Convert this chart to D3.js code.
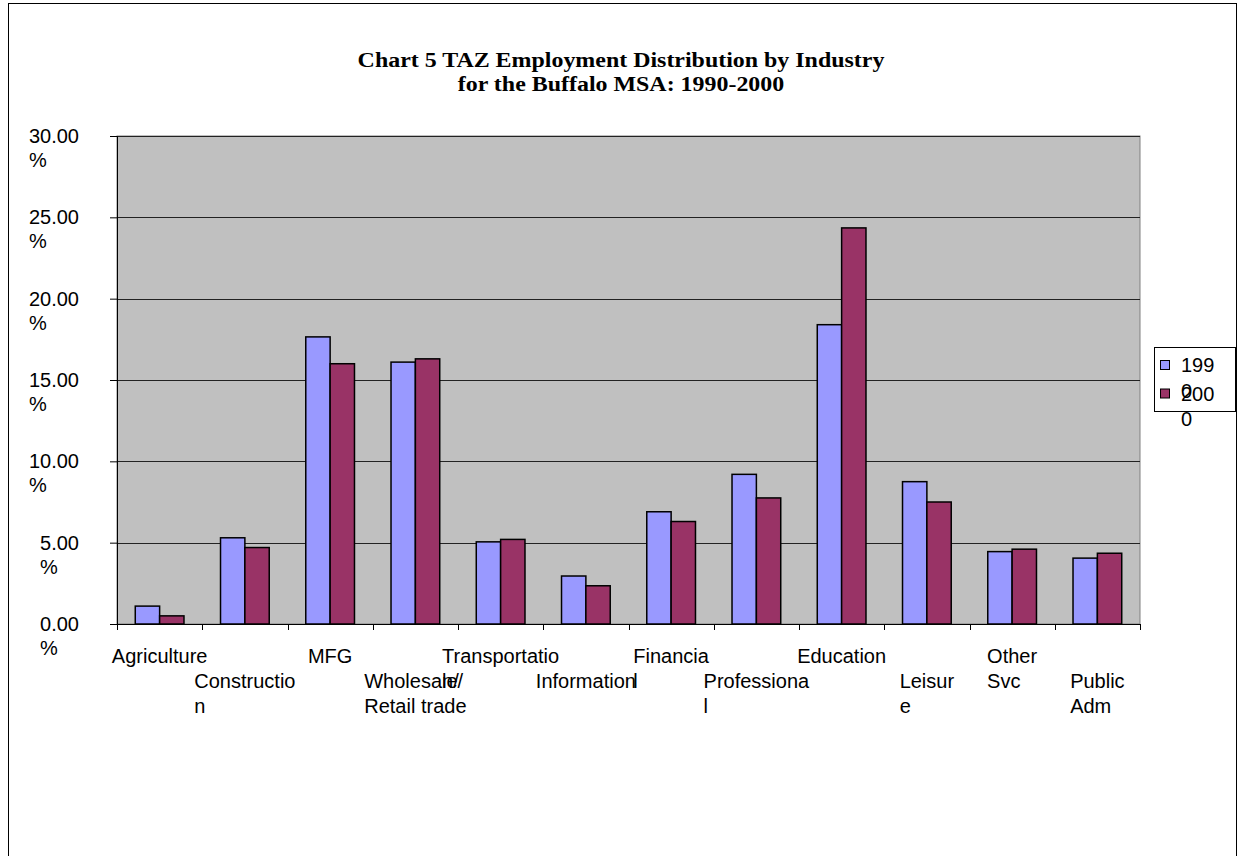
<!DOCTYPE html>
<html>
<head>
<meta charset="utf-8">
<script src="https://cdn.jsdelivr.net/npm/d3@7"></script>
<style>
  body { margin: 0; background: #fff; }
  text { font-family: Arial, "Liberation Sans", sans-serif; fill: #000; }
  .title { font-family: "Times New Roman", "Liberation Serif", serif; font-weight: bold; }
</style>
</head>
<body>
<div id="chart"></div>
<script>
// data
var categories = ["Agriculture", "Construction", "MFG", "Wholesale/Retail trade", "Transportation/",
	"Information", "Financial", "Professional", "Education", "Leisure", "Other Svc", "Public Adm"];
// labels as they wrap in the original
var labelLines = [["Agriculture"], ["Constructio", "n"], ["MFG"], ["Wholesale/", "Retail trade"],
	["Transportatio", "n/"], ["Information"], ["Financia", "l"], ["Professiona", "l"], ["Education"],
	["Leisur", "e"], ["Other", "Svc"], ["Public", "Adm"]];
var series = ["1990", "2000"];
var legendLines = [["199", "0"], ["200", "0"]];
var titleLines = ["Chart 5 TAZ Employment Distribution by Industry", "for the Buffalo MSA: 1990-2000"];
var values1990 = [1.1, 5.3, 17.65, 16.1, 5.05, 2.95, 6.9, 9.2, 18.4, 8.75, 4.45, 4.05];
var values2000 = [0.5, 4.7, 16.0, 16.3, 5.2, 2.35, 6.3, 7.75, 24.35, 7.5, 4.6, 4.35];
var yTicks = [0, 5, 10, 15, 20, 25, 30];
var colors = ["#9999FF", "#993366"];

var W = 1238, H = 856;
var margin = {top: 136, left: 117, right: 98, bottom: 232};
var width = W - margin.left - margin.right;
var height = H - margin.top - margin.bottom;

var svg = d3.select("#chart")
	.append("svg")
	.attr("width", W)
	.attr("height", H);

// outer chart border
svg.append("rect")
	.attr("x", 8.5).attr("y", 3.5)
	.attr("width", 1228).attr("height", 900)
	.attr("fill", "none")
	.attr("stroke", "#000");

// title (the original face is drawn a little wider than ours)
var title = svg.append("text")
	.attr("class", "title")
	.attr("text-anchor", "middle")
	.attr("transform", "translate(621,0) scale(1.14,1)")
	.style("font-size", "21px");
titleLines.forEach(function (ln, k) {
	title.append("tspan").attr("x", 0).attr("y", 67 + k * 24).text(ln);
});

var g = svg.append("g")
	.attr("transform", "translate(" + margin.left + "," + margin.top + ")");

var x0 = d3.scaleBand()
	.domain(categories)
	.range([0, width])
	.padding(0);

var x1 = d3.scaleBand()
	.domain(series)
	.range([0, x0.bandwidth()])
	.paddingInner(0)
	.paddingOuter(0.75);

var y = d3.scaleLinear()
	.domain([0, 30])
	.range([height, 0]);

// plot area
g.append("rect")
	.attr("width", width)
	.attr("height", height)
	.attr("fill", "#C0C0C0")
	.attr("stroke", "#808080");

// gridlines
g.selectAll(".grid")
	.data(yTicks.filter(function (d) { return d > 0; }))
	.enter().append("line")
	.attr("x1", 0).attr("x2", width)
	.attr("y1", function (d) { return Math.round(y(d)) + 0.5; })
	.attr("y2", function (d) { return Math.round(y(d)) + 0.5; })
	.attr("stroke", "#222");

// bars
var rows = categories.map(function (c, i) {
	return {cat: c, vals: [values1990[i], values2000[i]]};
});

var groups = g.selectAll(".grp")
	.data(rows)
	.enter().append("g")
	.attr("transform", function (d) { return "translate(" + x0(d.cat) + ",0)"; });

groups.selectAll("rect")
	.data(function (d) {
		return d.vals.map(function (v, j) { return {s: series[j], v: v, j: j}; });
	})
	.enter().append("rect")
	.attr("x", function (d) { return x1(d.s); })
	.attr("y", function (d) { return y(d.v); })
	.attr("width", x1.bandwidth())
	.attr("height", function (d) { return height - y(d.v); })
	.attr("fill", function (d) { return colors[d.j]; })
	.attr("stroke", "#000")
	.attr("stroke-width", 1.5);

// Y axis
var yAxis = d3.axisLeft(y)
	.tickValues(yTicks)
	.tickSize(7)
	.tickFormat("");
var yG = g.append("g").call(yAxis);
yG.select(".domain").attr("stroke", "#000");

yTicks.forEach(function (t) {
	var yy = y(t);
	var t1 = g.append("text")
		.attr("x", -38).attr("y", yy + 7)
		.attr("text-anchor", "end")
		.style("font-size", "20px")
		.text(d3.format(".2f")(t));
	var w = t1.node().getComputedTextLength();
	g.append("text")
		.attr("x", -38 - w).attr("y", yy + 31)
		.style("font-size", "20px")
		.text("%");
});

// X axis with ticks on band edges
var xAxis = d3.axisBottom(x0).tickSize(0).tickFormat("");
var xG = g.append("g")
	.attr("transform", "translate(0," + height + ")")
	.call(xAxis);
xG.select(".domain").attr("stroke", "#000");
var edges = categories.map(function (c) { return x0(c); }).concat([width]);
xG.selectAll(".edge")
	.data(edges)
	.enter().append("line")
	.attr("x1", function (d) { return Math.round(d) + 0.5; })
	.attr("x2", function (d) { return Math.round(d) + 0.5; })
	.attr("y1", 0).attr("y2", 6)
	.attr("stroke", "#000");

// category labels, staggered in two rows
categories.forEach(function (c, i) {
	var cx = x0(c) + x0.bandwidth() / 2;
	var base = height + 39 + (i % 2) * 25;
	var lab = g.append("g");
	var texts = labelLines[i].map(function (ln, k) {
		return lab.append("text")
			.attr("y", base + k * 25)
			.style("font-size", "20px")
			.text(ln);
	});
	var bw = d3.max(texts, function (t) { return t.node().getComputedTextLength(); });
	texts.forEach(function (t) { t.attr("x", cx - bw / 2); });
});

// legend
var leg = svg.append("g");
leg.append("rect")
	.attr("x", 1154.5).attr("y", 347.5)
	.attr("width", 81).attr("height", 64)
	.attr("fill", "#fff")
	.attr("stroke", "#000");
series.forEach(function (s, j) {
	var cy = 365 + j * 28.5;
	leg.append("rect")
		.attr("x", 1160.5).attr("y", cy - 4.5)
		.attr("width", 9).attr("height", 9)
		.attr("fill", colors[j])
		.attr("stroke", "#000");
	legendLines[j].forEach(function (ln, k) {
		leg.append("text")
			.attr("x", 1181).attr("y", cy + 7 + k * 25.5)
			.style("font-size", "20px")
			.text(ln);
	});
});
</script>
</body>
</html>
